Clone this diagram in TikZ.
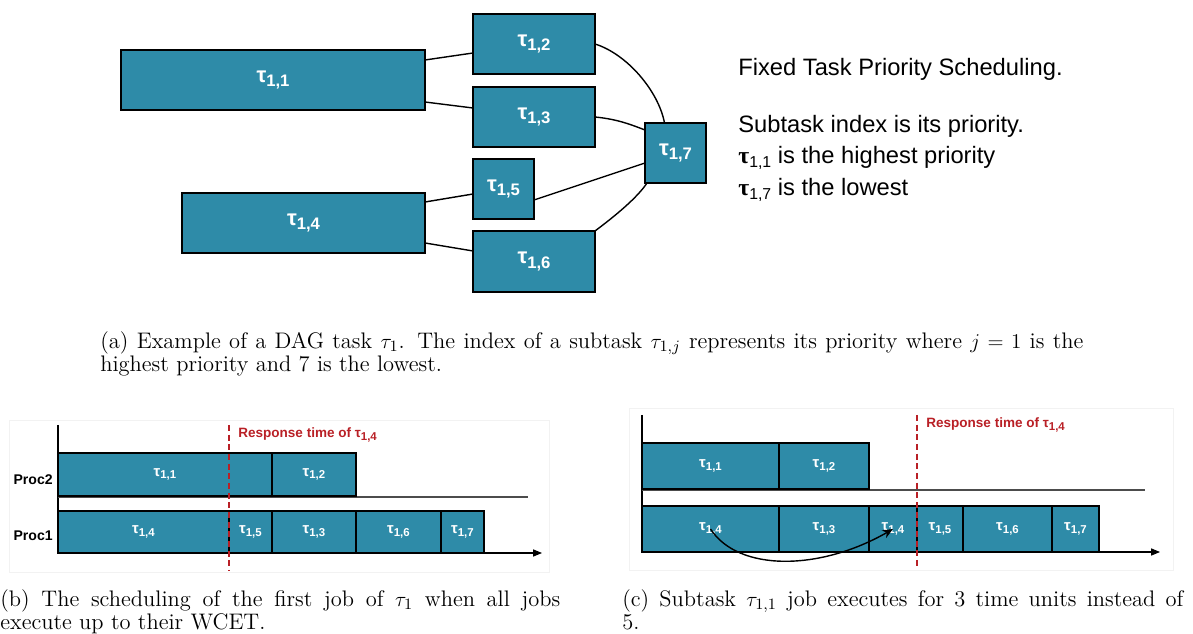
\documentclass[tikz,border=0pt]{standalone}
\usepackage{fontspec}
\setsansfont{Liberation Sans}
\newfontfamily\taufont{Liberation Serif}
\usetikzlibrary{calc,arrows.meta}

\definecolor{taskblue}{RGB}{46,139,168}
\definecolor{resred}{RGB}{185,32,38}

% subtask labels
\newcommand{\dtau}[1]{τ\raisebox{-0.35ex}{\fontsize{9.5}{10}\selectfont #1}}
\newcommand{\gtau}[1]{τ\raisebox{-0.3ex}{\fontsize{6.5}{7}\selectfont #1}}
\newcommand{\itau}[1]{{\taufont\bfseries τ}\raisebox{-0.3ex}{\fontsize{9}{9}\selectfont #1}}

\tikzset{
  wh/.style 2 args={minimum width=#1*0.02cm, minimum height=#2*0.02cm},
  dagbox/.style={draw=black, line width=0.9pt, fill=taskblue, text=white,
    font=\sffamily\bfseries\fontsize{12.5}{13}\selectfont, inner sep=0pt, outer sep=0pt},
  ganttbox/.style={draw=black, line width=0.7pt, fill=taskblue, text=white,
    font=\sffamily\bfseries\fontsize{8.5}{9}\selectfont, inner sep=0pt, outer sep=0pt},
  link/.style={line width=0.8pt},
  axis/.style={line width=0.6pt},
  sep/.style={black!70, line width=0.6pt},
  resline/.style={resred, line width=1.5pt, dash pattern=on 3.5pt off 2pt},
  restext/.style={resred, font=\sffamily\bfseries\fontsize{7.7}{8}\selectfont, anchor=west, inner sep=0pt},
  proclabel/.style={font=\sffamily\bfseries\fontsize{8}{9}\selectfont, anchor=east, inner sep=0pt},
  infotext/.style={font=\sffamily\fontsize{13.5}{14}\selectfont, anchor=base west, inner sep=0pt},
  frame/.style={draw=black!5, line width=0.5pt},
  caption/.style={anchor=north west, inner sep=0pt, align=justify, font=\fontsize{12.8}{13.1}\selectfont},
}

\begin{document}
\begin{tikzpicture}[x=0.02cm, y=-0.02cm]
    \useasboundingbox (0,0) rectangle (1193,634);

    % DAG task
    \node[dagbox, wh={304}{60}] (t11) at (273,80) {\dtau{1,1}};
    \node[dagbox, wh={122}{60}] (t12) at (534,44) {\dtau{1,2}};
    \node[dagbox, wh={122}{60}] (t13) at (534,117) {\dtau{1,3}};
    \node[dagbox, wh={243}{60}] (t14) at (303.5,223) {\dtau{1,4}};
    \node[dagbox, wh={61}{60}] (t15) at (503.5,189) {\dtau{1,5}};
    \node[dagbox, wh={122}{61}] (t16) at (534,261.5) {\dtau{1,6}};
    \node[dagbox, wh={61}{60}] (t17) at (675.5,153) {\dtau{1,7}};

    \draw[link] ($(t11.east)+(0,-20)$) -- ($(t12.west)+(0,9)$);
    \draw[link] ($(t11.east)+(0,22)$) -- ($(t13.west)+(0,-9)$);
    \draw[link] ($(t14.east)+(0,-21)$) -- ($(t15.west)+(0,5)$);
    \draw[link] ($(t14.east)+(0,20)$) -- ($(t16.west)+(0,-10.5)$);
    \draw[link] (t12.east) .. controls +(32,10) and +(-6,-32) .. ($(t17.north)+(-11,0)$);
    \draw[link] (t13.east) .. controls +(20,2) and +(-18,-7) .. ($(t17.west)+(0,-23)$);
    \draw[link] ($(t15.east)+(0,11)$) -- ($(t17.west)+(0,10)$);
    \draw[link] (t16.north east) .. controls +(20,-15) and +(-10,15) .. ($(t17.south west)+(2,0)$);

    % Priority notes
    \node[infotext] (fixed) at (738,76) {Fixed Task Priority Scheduling.};
    \node[infotext] (index) at (738,133) {Subtask index is its priority.};
    \node[infotext] (high) at (738,164) {\itau{1,1} is the highest priority};
    \node[infotext] (low) at (738,196) {\itau{1,7} is the lowest};

    \node[caption, text width=983*0.02cm] (capa) at (100,331) {(a) Example of a DAG task $\tau_1$. The index of a subtask $\tau_{1,j}$ represents its priority where $j=1$ is the\linebreak highest priority and 7 is the lowest.};

    % Schedule with WCET
    \draw[frame] (9,420) rectangle (549,572);
    \coordinate (bo) at (58,553);
    \coordinate (btop) at (58,425);
    \coordinate (bend) at (542,553);
    \coordinate (bsep) at (528,497);
    \draw[axis] (btop) -- (bo);
    \draw[sep] (bo |- bsep) -- (bsep);

    \node[ganttbox, wh={214}{43}] (b11) at (165,474.5) {\gtau{1,1}};
    \node[ganttbox, wh={84}{43}] (b12) at (314,474.5) {\gtau{1,2}};
    \node[ganttbox, wh={171}{42}] (b14) at (143.5,532) {\gtau{1,4}};
    \node[ganttbox, wh={43}{42}] (b15) at (250.5,532) {\gtau{1,5}};
    \node[ganttbox, wh={84}{42}] (b13) at (314,532) {\gtau{1,3}};
    \node[ganttbox, wh={85}{42}] (b16) at (398.5,532) {\gtau{1,6}};
    \node[ganttbox, wh={43}{42}] (b17) at (462.5,532) {\gtau{1,7}};
    \draw[axis, -{Triangle[length=5pt, width=4pt]}] (bo) -- (bend);

    \node[proclabel] (p2) at (53,480) {Proc2};
    \node[proclabel] (p1) at (53,536) {Proc1};

    \coordinate (bres) at (229,425);
    \coordinate (bresend) at (229,570);
    \draw[resline] (bres) -- (bresend);
    \node[restext] (bresl) at (238,435) {Response time of \gtau{1,4}};

    \node[caption, text width=560*0.02cm] (capb) at (0,589) {(b) The scheduling of the first job of $\tau_1$ when all jobs\linebreak execute up to their WCET.};

    % Schedule with early completion
    \draw[frame] (629,408) rectangle (1173,570);
    \coordinate (co) at (642,552);
    \coordinate (ctop) at (642,415);
    \coordinate (cend) at (1160,552);
    \coordinate (csep) at (1145,490);
    \draw[axis] (ctop) -- (co);
    \draw[sep] (co |- csep) -- (csep);

    \node[ganttbox, wh={137}{46}] (c11) at (710.5,466) {\gtau{1,1}};
    \node[ganttbox, wh={90}{46}] (c12) at (824,466) {\gtau{1,2}};
    \node[ganttbox, wh={137}{46}] (c14a) at (710.5,529) {\gtau{1,4}};
    \node[ganttbox, wh={90}{46}] (c13) at (824,529) {\gtau{1,3}};
    \node[ganttbox, wh={48}{46}] (c14b) at (893,529) {\gtau{1,4}};
    \node[ganttbox, wh={46}{46}] (c15) at (940,529) {\gtau{1,5}};
    \node[ganttbox, wh={89}{46}] (c16) at (1007.5,529) {\gtau{1,6}};
    \node[ganttbox, wh={47}{46}] (c17) at (1075.5,529) {\gtau{1,7}};
    \draw[axis, -{Triangle[length=5pt, width=4pt]}] (co) -- (cend);

    \draw[link, -{Stealth[length=6pt, width=5pt]}] (c14a.center) .. controls +(28,43) and +(-73,42) .. (c14b.center);

    \coordinate (cres) at (917,415);
    \coordinate (cresend) at (917,567);
    \draw[resline] (cres) -- (cresend);
    \node[restext] (cresl) at (926,425) {Response time of \gtau{1,4}};

    \node[caption, text width=561*0.02cm] (capc) at (622,589) {(c) Subtask $\tau_{1,1}$ job executes for 3 time units instead of\linebreak 5.};
\end{tikzpicture}
\end{document}
